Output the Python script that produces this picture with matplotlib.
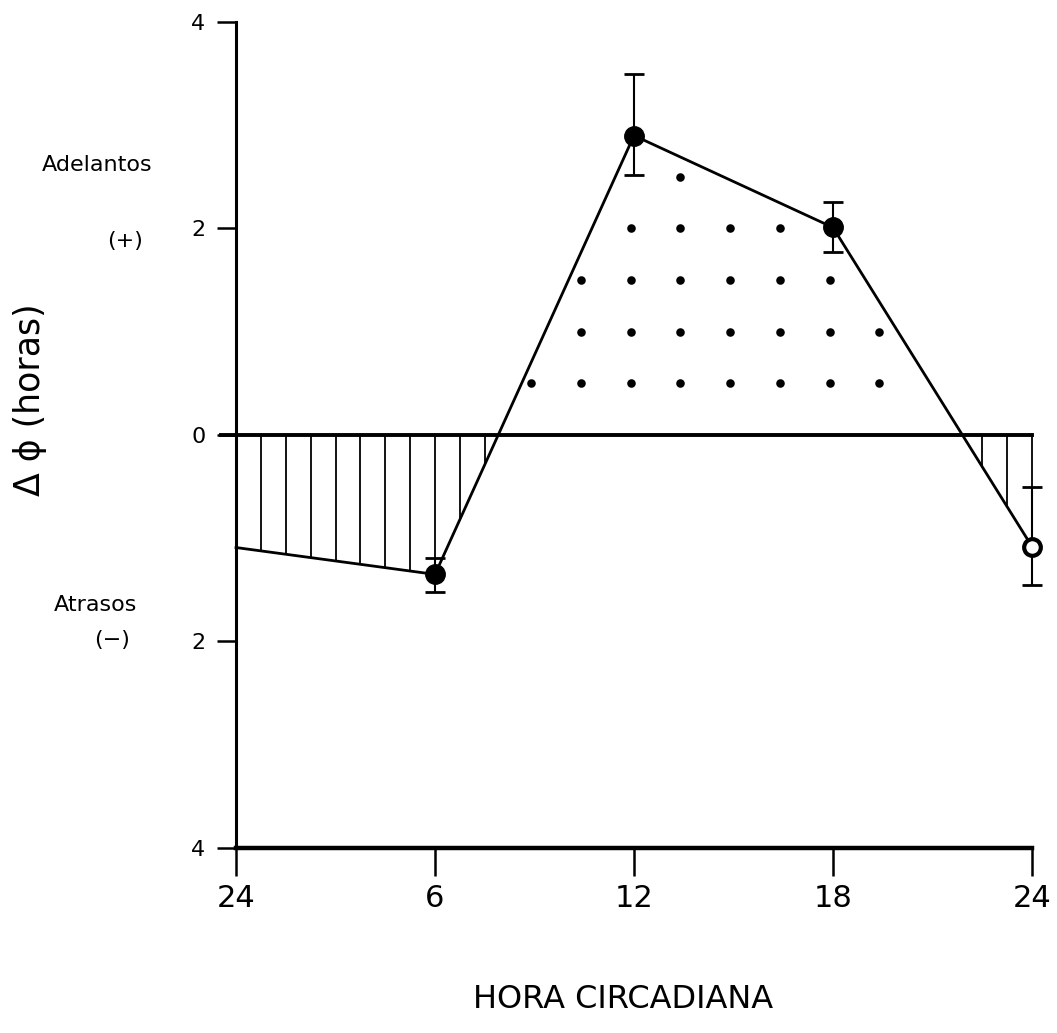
import numpy as np
import matplotlib.pyplot as plt

# phase response data (circadian hour -> phase shift in hours)
hours = [0, 6, 12, 18, 24]
shift = [-1.09, -1.35, 2.9, 2.01, -1.08]
err_up = [0.0, 0.16, 0.6, 0.25, 0.58]
err_down = [0.0, 0.17, 0.38, 0.24, 0.37]

xtick_pos = [0, 6, 12, 18, 24]
xtick_labels = ['24', '6', '12', '18', '24']
ytick_pos = [-4, -2, 0, 2, 4]
ytick_labels = ['4', '2', '0', '2', '4']

# dotted fill of the advance region: row heights, column hours, columns used per row
dot_rows = [0.5, 1.0, 1.5, 2.0, 2.5]
dot_cols = [8.9, 10.4, 11.9, 13.4, 14.9, 16.4, 17.9, 19.4]
dot_span = [(0, 7), (1, 7), (1, 6), (2, 5), (3, 3)]

hatch_step = 0.75

fig = plt.figure(figsize=(10.57, 10.33), dpi=100)
ax = fig.add_axes([0.2233, 0.1791, 0.753, 0.7996])

x = np.array(hours, dtype=float)
y = np.array(shift)

# vertical hatching where the curve is below zero
for hx in np.arange(0, 24 + 1e-6, hatch_step):
    hy = np.interp(hx, x, y)
    if hy < -0.02:
        ax.plot([hx, hx], [0, hy], color='black', lw=1.3, solid_capstyle='butt',
                zorder=2, clip_on=False)

# dot pattern above zero
for row, (a, b) in zip(dot_rows, dot_span):
    cols = dot_cols[a:b + 1]
    ax.scatter(cols, [row] * len(cols), s=38, color='black', zorder=2, linewidths=0)

# zero line
ax.plot([-0.45, 24], [0, 0], color='black', lw=2.8, zorder=3, clip_on=False)

# curve
ax.plot(x, y, color='black', lw=2.0, zorder=4, clip_on=False)

# error bars
for i in range(1, 5):
    eb = ax.errorbar(x[i], y[i], yerr=[[err_down[i]], [err_up[i]]], fmt='none',
                     ecolor='black', elinewidth=1.5, capsize=7, capthick=2, zorder=4)
    for art in eb.lines[1] + eb.lines[2]:
        art.set_clip_on(False)

ax.plot(x[1:4], y[1:4], 'o', color='black', ms=14, zorder=5, clip_on=False)
ax.plot(x[4], y[4], 'o', mfc='white', mec='black', mew=3, ms=12, zorder=5, clip_on=False)

ax.set_xlim(0, 24)
ax.set_ylim(-4, 4)
for s in ['top', 'right']:
    ax.spines[s].set_visible(False)
ax.spines['left'].set_linewidth(2.2)
ax.spines['bottom'].set_linewidth(3.2)

ax.set_xticks(xtick_pos)
ax.set_xticklabels(xtick_labels, fontsize=22)
ax.set_yticks(ytick_pos)
ax.set_yticklabels(ytick_labels, fontsize=16)
ax.tick_params(axis='x', direction='out', length=20, width=1.8, pad=6)
ax.tick_params(axis='y', direction='out', length=14, width=1.8, pad=8)

fig.text(0.589, 0.032, 'HORA CIRCADIANA', fontsize=23, ha='center', va='center')

fig.text(0.028, 0.613, 'Δ ϕ (horas)', rotation=90, fontsize=25, ha='center', va='center')
fig.text(0.092, 0.840, 'Adelantos', fontsize=16, ha='center', va='center')
fig.text(0.118, 0.767, '(+)', fontsize=16, ha='center', va='center')
fig.text(0.090, 0.414, 'Atrasos', fontsize=16, ha='center', va='center')
fig.text(0.106, 0.380, '(−)', fontsize=16, ha='center', va='center')

fig.savefig('out.png', dpi=100)
